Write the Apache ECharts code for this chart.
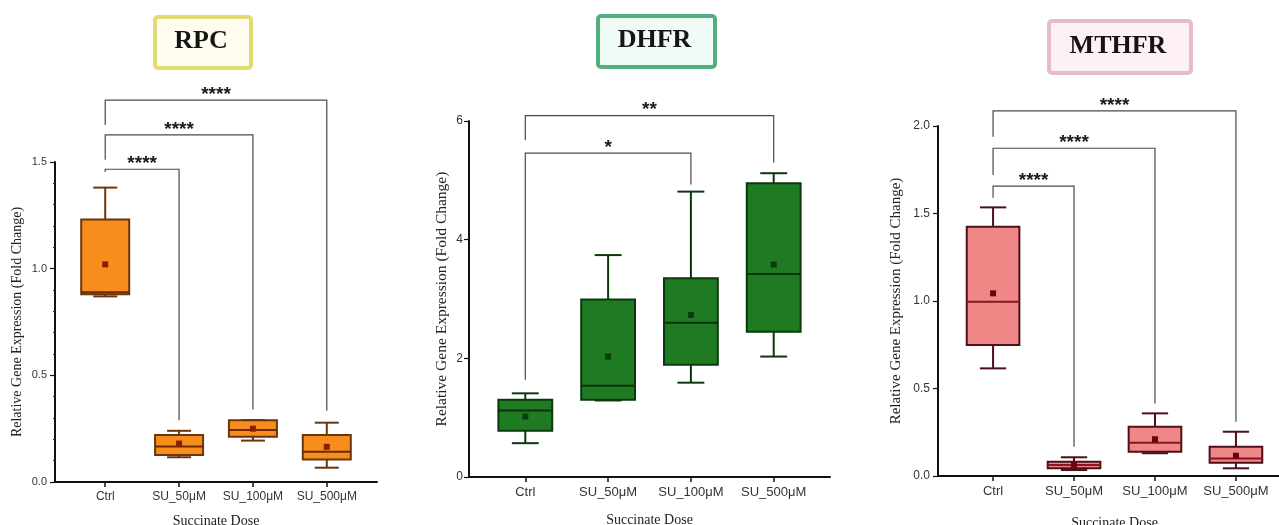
<!DOCTYPE html>
<html>
<head>
<meta charset="utf-8">
<script src="https://cdn.jsdelivr.net/npm/echarts@6/dist/echarts.min.js"></script>
<style>
  html, body { margin: 0; padding: 0; background: #ffffff; }
  #chart { width: 1279px; height: 525px; }
</style>
</head>
<body>
<div id="chart"></div>
<script>
// Treatment groups on the x axis
const categories = ['Ctrl', 'SU_50μM', 'SU_100μM', 'SU_500μM'];

// Box statistics per group: [min, Q1, median, Q3, max]
const rpcBox = [
  [0.87, 0.88, 0.89, 1.23, 1.38],
  [0.116, 0.127, 0.166, 0.22, 0.24],
  [0.194, 0.212, 0.244, 0.29, 0.29],
  [0.067, 0.106, 0.142, 0.22, 0.278]
];
const rpcMean = [1.02, 0.18, 0.25, 0.165];

const dhfrBox = [
  [0.57, 0.78, 1.12, 1.30, 1.41],
  [1.29, 1.30, 1.54, 2.99, 3.74],
  [1.59, 1.89, 2.60, 3.35, 4.81],
  [2.03, 2.45, 3.42, 4.95, 5.12]
];
const dhfrMean = [1.02, 2.03, 2.73, 3.58];

const mthfrBox = [
  [0.615, 0.749, 0.996, 1.425, 1.535],
  [0.034, 0.044, 0.063, 0.082, 0.107],
  [0.13, 0.139, 0.19, 0.282, 0.358],
  [0.044, 0.076, 0.10, 0.167, 0.253]
];
const mthfrMean = [1.044, 0.065, 0.21, 0.116];

// Significance brackets: [fromGroup, toGroup, barY, leftLegEndY, rightLegEndY]
const rpcBrackets = [[0, 1, 1.466, 1.453, 0.29], [0, 2, 1.627, 1.51, 0.34], [0, 3, 1.79, 1.674, 0.334]];
const rpcStars = ['****', '****', '****'];
const dhfrBrackets = [[0, 2, 5.46, 1.64, 4.93], [0, 3, 6.09, 5.68, 5.30]];
const dhfrStars = ['*', '**'];
const mthfrBrackets = [[0, 1, 1.657, 1.59, 0.167], [0, 2, 1.873, 1.72, 0.415], [0, 3, 2.087, 1.939, 0.31]];
const mthfrStars = ['****', '****', '****'];

// Axis ticks
const rpcTicks = { max: 1.5, interval: 0.5, digits: 1 };
const dhfrTicks = { max: 6, interval: 2, digits: 0 };
const mthfrTicks = { max: 2.0, interval: 0.5, digits: 1 };

const genes = ['RPC', 'DHFR', 'MTHFR'];
const yTitle = 'Relative Gene Expression (Fold Change)';
const xTitle = 'Succinate Dose';

const SANS = "'Liberation Sans', Arial, sans-serif";
const SERIF = "'Liberation Serif', 'Times New Roman', serif";

const panels = [
  {
    gene: genes[0], box: rpcBox, mean: rpcMean, brackets: rpcBrackets, stars: rpcStars, ticks: rpcTicks,
    grid: { left: 55, top: 162, width: 322, height: 320 },
    yNameGap: 31, yNameSize: 14, xNameGap: 32, xLabelSize: 12, yLabelSize: 11, yLabelMargin: 8, minor: true,
    colors: { fill: '#f68d1c', edge: '#6a360c', median: '#6e2a02', mean: '#8a1e00' },
    badge: { x: 153, y: 15, w: 96, h: 51, border: '#e4da72', fill: '#fffdf0' }
  },
  {
    gene: genes[1], box: dhfrBox, mean: dhfrMean, brackets: dhfrBrackets, stars: dhfrStars, ticks: dhfrTicks,
    grid: { left: 469, top: 121, width: 361, height: 356 },
    yNameGap: 19, yNameSize: 15.5, xNameGap: 36, xLabelSize: 13, yLabelSize: 12, yLabelMargin: 6, minor: false,
    colors: { fill: '#1f7b22', edge: '#0b380c', median: '#0a330b', mean: '#0a3d0b' },
    badge: { x: 596, y: 14, w: 117, h: 51, border: '#52b07e', fill: '#f1fbf5' }
  },
  {
    gene: genes[2], box: mthfrBox, mean: mthfrMean, brackets: mthfrBrackets, stars: mthfrStars, ticks: mthfrTicks,
    grid: { left: 938, top: 126, width: 353, height: 350 },
    yNameGap: 34, yNameSize: 15, xNameGap: 40, xLabelSize: 13, yLabelSize: 12, yLabelMargin: 8, minor: false,
    colors: { fill: '#f08787', edge: '#4e1018', median: '#8a1424', mean: '#6e0010' },
    badge: { x: 1047, y: 19, w: 142, h: 52, border: '#e6bccd', fill: '#fdf1f6' }
  }
];

function boxRenderer(colors) {
  return function (params, api) {
    const x = api.value(0);
    const c = function (v) { return api.coord([x, v]); };
    const band = api.size([1, 0])[0];
    const w = band * 0.65;
    const cap = w * 0.5;
    const pMin = c(api.value(1)), pQ1 = c(api.value(2)), pMed = c(api.value(3));
    const pQ3 = c(api.value(4)), pMax = c(api.value(5)), pMean = c(api.value(6));
    const cx = pMin[0];
    const ls = { stroke: colors.edge, lineWidth: 2 };
    return {
      type: 'group',
      children: [
        { type: 'line', shape: { x1: cx, y1: pMax[1], x2: cx, y2: pQ3[1] }, style: ls },
        { type: 'line', shape: { x1: cx, y1: pQ1[1], x2: cx, y2: pMin[1] }, style: ls },
        { type: 'line', shape: { x1: cx - cap / 2, y1: pMax[1], x2: cx + cap / 2, y2: pMax[1] }, style: ls },
        { type: 'line', shape: { x1: cx - cap / 2, y1: pMin[1], x2: cx + cap / 2, y2: pMin[1] }, style: ls },
        {
          type: 'rect',
          shape: { x: cx - w / 2, y: pQ3[1], width: w, height: pQ1[1] - pQ3[1] },
          style: { fill: colors.fill, stroke: colors.edge, lineWidth: 2 }
        },
        { type: 'line', shape: { x1: cx - w / 2, y1: pMed[1], x2: cx + w / 2, y2: pMed[1] }, style: { stroke: colors.median, lineWidth: 2 } },
        { type: 'rect', shape: { x: cx - 3, y: pMean[1] - 3, width: 6, height: 6 }, style: { fill: colors.mean } }
      ]
    };
  };
}

function bracketRenderer(stars) {
  return function (params, api) {
    const x1 = api.value(0), x2 = api.value(1);
    const bar = api.value(2), l = api.value(3), r = api.value(4);
    const a = api.coord([x1, bar]), b = api.coord([x2, bar]);
    const aEnd = api.coord([x1, l]), bEnd = api.coord([x2, r]);
    const ls = { stroke: '#4a4a4a', lineWidth: 1.2, fill: null };
    return {
      type: 'group',
      children: [
        { type: 'polyline', shape: { points: [aEnd, a, b, bEnd] }, style: ls },
        {
          type: 'text', x: (a[0] + b[0]) / 2, y: a[1] + 4,
          style: {
            text: stars[params.dataIndex], fill: '#1a1a1a',
            font: 'bold 19px ' + SANS, align: 'center', verticalAlign: 'bottom'
          }
        }
      ]
    };
  };
}

const option = {
  animation: false,
  backgroundColor: '#ffffff',
  grid: [], xAxis: [], yAxis: [], series: [], graphic: []
};

panels.forEach(function (p, i) {
  option.grid.push(Object.assign({ containLabel: false, outerBoundsMode: 'none' }, p.grid));
  option.xAxis.push({
    type: 'value', gridIndex: i, min: -0.68, max: 3.68,
    name: xTitle, nameLocation: 'middle', nameGap: p.xNameGap,
    nameTextStyle: { fontFamily: SERIF, fontSize: 14, color: '#222' },
    axisLine: { show: true, onZero: false, lineStyle: { color: '#111', width: 2 } },
    axisTick: { show: true, customValues: [0, 1, 2, 3], length: 5, lineStyle: { color: '#111', width: 1.5 } },
    axisLabel: {
      customValues: [0, 1, 2, 3], margin: 9, color: '#333', fontFamily: SANS, fontSize: p.xLabelSize,
      formatter: function (v) { return categories[Math.round(v)]; }
    },
    splitLine: { show: false }
  });
  option.yAxis.push({
    type: 'value', gridIndex: i, min: 0, max: p.ticks.max, interval: p.ticks.interval,
    name: yTitle, nameLocation: 'middle', nameGap: p.yNameGap, nameRotate: 90,
    nameTextStyle: { fontFamily: SERIF, fontSize: p.yNameSize, color: '#222' },
    axisLine: { show: true, onZero: false, lineStyle: { color: '#111', width: 2 } },
    axisTick: { show: true, length: 5, lineStyle: { color: '#111', width: 1.2 } },
    minorTick: { show: p.minor, splitNumber: 5, length: 2, lineStyle: { color: '#333', width: 1 } },
    axisLabel: {
      margin: p.yLabelMargin, color: '#333', fontFamily: SANS, fontSize: p.yLabelSize,
      formatter: (function (d) { return function (v) { return v.toFixed(d); }; })(p.ticks.digits)
    },
    splitLine: { show: false }
  });
  option.series.push({
    type: 'custom', name: p.gene + ' box', xAxisIndex: i, yAxisIndex: i, clip: false,
    renderItem: boxRenderer(p.colors),
    encode: { x: 0, y: [1, 2, 3, 4, 5, 6] },
    data: p.box.map(function (s, k) { return [k].concat(s, [p.mean[k]]); })
  });
  option.series.push({
    type: 'custom', name: p.gene + ' significance', xAxisIndex: i, yAxisIndex: i, clip: false, z: 1,
    renderItem: bracketRenderer(p.stars),
    encode: { x: [0, 1], y: [2, 3, 4] },
    data: p.brackets
  });
  const b = p.badge;
  option.graphic.push({
    type: 'rect', left: b.x, top: b.y,
    shape: { width: b.w, height: b.h, r: 3 },
    style: { fill: b.fill, stroke: b.border, lineWidth: 4 }
  });
  option.graphic.push({
    type: 'text', x: b.x + b.w / 2, y: b.y + b.h / 2 + 1,
    style: { text: p.gene, fill: '#151515', font: 'bold 26px ' + SERIF, align: 'center', verticalAlign: 'middle' }
  });
});

const chart = echarts.init(document.getElementById('chart'), null, { renderer: 'canvas' });
chart.setOption(option);
</script>
</body>
</html>
